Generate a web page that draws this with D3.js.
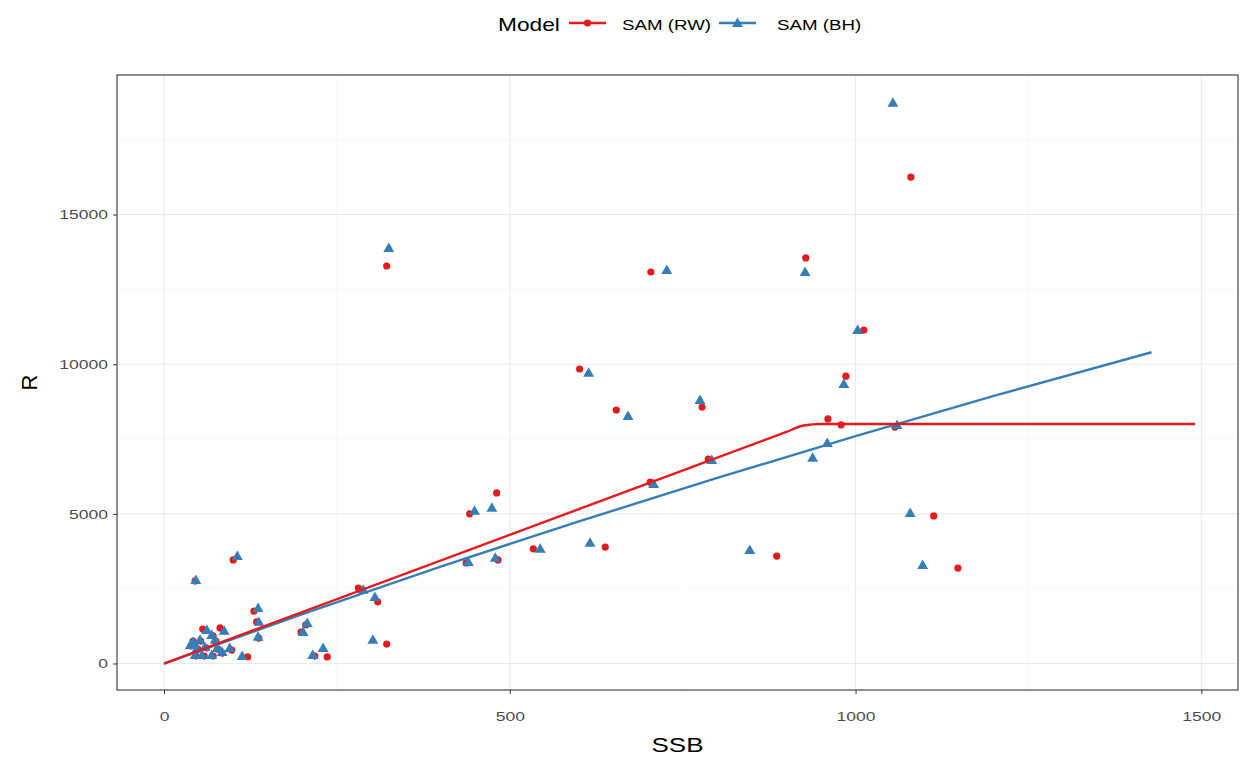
<!DOCTYPE html>
<html>
<head>
  <meta charset="utf-8">
  <title>SSB vs R</title>
  <script src="https://d3js.org/d3.v7.min.js"></script>
  <style>
    body { margin: 0; background: #fff; }
    svg { font-family: "Liberation Sans", Arial, sans-serif; }
    .grid-major line { stroke: #ebebeb; stroke-width: 1.1px; }
    .grid-minor line { stroke: #f3f3f3; stroke-width: 0.6px; }
    .axis text { fill: #4d4d4d; font-size: 13.5px; }
    .axis line { stroke: #333; }
    .axis path { display: none; }
  </style>
</head>
<body>
  <svg width="1250" height="758"></svg>
  <script>
    const rwSSB = [1080, 322, 928, 704, 1012, 601, 986, 654, 778, 960, 979, 1057, 787, 703, 1113,
      481, 442, 437, 483, 534, 638, 886, 1148,
      100, 45, 281, 309, 130, 134, 56, 81, 137, 198, 205, 322, 236, 218, 121, 98,
      42, 53, 49, 58, 71, 75, 78, 71, 84, 61, 39, 46];
    const rwR = [16250, 13280, 13550, 13080, 11140, 9840, 9600, 8470, 8570, 8170, 7970, 7900, 6830, 6060, 4930,
      5700, 5000, 3360, 3460, 3830, 3890, 3590, 3190,
      3460, 2760, 2520, 2060, 1750, 1390, 1150, 1190, 850, 1050, 1290, 650, 220, 250, 220, 450,
      750, 750, 480, 250, 920, 750, 480, 250, 350, 520, 590, 250];

    const bhSSB = [1054, 325, 927, 727, 1003, 614, 983, 671, 775, 959, 938, 1060, 792, 708, 1079,
      474, 449, 440, 479, 544, 616, 847, 1097,
      106, 46, 288, 305, 136, 137, 62, 87, 136, 201, 207, 302, 230, 215, 113, 95,
      42, 52, 48, 55, 69, 74, 77, 69, 84, 59, 38, 45];
    const bhR = [18730, 13880, 13080, 13150, 11140, 9710, 9340, 8270, 8800, 7370, 6870, 7970, 6800, 6000, 5030,
      5200, 5100, 3390, 3530, 3830, 4030, 3790, 3290,
      3590, 2790, 2460, 2220, 1850, 1390, 1120, 1090, 890, 1050, 1350, 790, 520, 280, 250, 520,
      720, 790, 520, 280, 950, 790, 520, 280, 380, 550, 620, 280];

    // fitted curves
    const rwLineSSB = [0, 900, 925, 950, 1491];
    const rwLineR = [0, 7740, 7950, 8000, 8000];
    const bhLineSSB = [0, 200, 400, 600, 800, 1000, 1200, 1428];
    const bhLineR = [0, 1650, 3240, 4750, 6200, 7600, 8940, 10400];

    const models = ["SAM (RW)", "SAM (BH)"];
    const colors = ["#E41A1C", "#377EB8"];
    const xTicks = [0, 500, 1000, 1500];
    const yTicks = [0, 5000, 10000, 15000];

    const stretch = 1.3; // the picture's lettering is wide
    const svg = d3.select("svg");
    const panel = { left: 117, right: 1238, top: 75, bottom: 690 };

    const x = d3.scaleLinear().domain([-68, 1553]).range([panel.left, panel.right]);
    const y = d3.scaleLinear().domain([-885, 19662]).range([panel.bottom, panel.top]);

    function wideText(parent, tx, ty, str, size, anchor) {
      return parent.append("text")
        .attr("transform", `translate(${tx},${ty}) scale(${stretch},1)`)
        .attr("text-anchor", anchor || "start")
        .attr("font-size", size).attr("fill", "#000")
        .text(str);
    }

    // grid
    const minor = svg.append("g").attr("class", "grid-minor");
    minor.selectAll("line.v").data([250, 750, 1250]).join("line").attr("class", "v")
      .attr("x1", d => x(d)).attr("x2", d => x(d))
      .attr("y1", panel.top).attr("y2", panel.bottom);
    minor.selectAll("line.h").data([2500, 7500, 12500, 17500]).join("line").attr("class", "h")
      .attr("y1", d => y(d)).attr("y2", d => y(d))
      .attr("x1", panel.left).attr("x2", panel.right);

    const major = svg.append("g").attr("class", "grid-major");
    major.selectAll("line.v").data(xTicks).join("line").attr("class", "v")
      .attr("x1", d => x(d)).attr("x2", d => x(d))
      .attr("y1", panel.top).attr("y2", panel.bottom);
    major.selectAll("line.h").data(yTicks).join("line").attr("class", "h")
      .attr("y1", d => y(d)).attr("y2", d => y(d))
      .attr("x1", panel.left).attr("x2", panel.right);

    // points
    const rwPts = rwSSB.map((s, i) => ({ s, r: rwR[i] }));
    const bhPts = bhSSB.map((s, i) => ({ s, r: bhR[i] }));

    svg.append("g").selectAll("circle").data(rwPts).join("circle")
      .attr("cx", d => x(d.s)).attr("cy", d => y(d.r))
      .attr("r", 3.6).attr("fill", colors[0]);

    const tri = d3.symbol().type(d3.symbolTriangle).size(52);
    svg.append("g").selectAll("path").data(bhPts).join("path")
      .attr("transform", d => `translate(${x(d.s)},${y(d.r) + 0.8})`)
      .attr("d", tri).attr("fill", colors[1]);

    // fitted lines
    const line = d3.line().x(d => x(d[0])).y(d => y(d[1])).curve(d3.curveMonotoneX);
    svg.append("path")
      .datum(bhLineSSB.map((s, i) => [s, bhLineR[i]]))
      .attr("d", line).attr("fill", "none")
      .attr("stroke", colors[1]).attr("stroke-width", 2.4);
    svg.append("path")
      .datum(rwLineSSB.map((s, i) => [s, rwLineR[i]]))
      .attr("d", line).attr("fill", "none")
      .attr("stroke", colors[0]).attr("stroke-width", 2.4);

    // panel border
    svg.append("rect")
      .attr("x", panel.left).attr("y", panel.top)
      .attr("width", panel.right - panel.left).attr("height", panel.bottom - panel.top)
      .attr("fill", "none").attr("stroke", "#333").attr("stroke-width", 1.1);

    // axes
    const xAxis = svg.append("g").attr("class", "axis")
      .attr("transform", `translate(0,${panel.bottom})`)
      .call(d3.axisBottom(x).tickValues(xTicks).tickSize(4).tickFormat(d3.format("d")));
    xAxis.selectAll("text").attr("y", 21).attr("dy", "0.71em").attr("x", 0)
      .attr("transform", `scale(${stretch},1)`);

    const yAxis = svg.append("g").attr("class", "axis")
      .attr("transform", `translate(${panel.left},0)`)
      .call(d3.axisLeft(y).tickValues(yTicks).tickSize(4).tickPadding(3).tickFormat(d3.format("d")));
    yAxis.selectAll("text").attr("transform", `scale(${stretch},1)`);

    wideText(svg, (panel.left + panel.right) / 2, 752, "SSB", 20, "middle");
    svg.append("text")
      .attr("transform", `translate(37,${(panel.top + panel.bottom) / 2}) rotate(-90)`)
      .attr("text-anchor", "middle").attr("font-size", 22).attr("fill", "#000")
      .text("R");

    // legend
    wideText(svg, 498, 31, "Model", 17.5);
    const keyX = [569, 719];
    const labelX = [53, 58];
    models.forEach((m, i) => {
      const g = svg.append("g").attr("transform", `translate(${keyX[i]},23)`);
      g.append("line").attr("x1", 0).attr("x2", 37).attr("y1", 0).attr("y2", 0)
        .attr("stroke", colors[i]).attr("stroke-width", 2.4);
      if (i === 0) {
        g.append("circle").attr("cx", 18.5).attr("cy", 0).attr("r", 3.6).attr("fill", colors[i]);
      } else {
        g.append("path").attr("transform", "translate(18.5,0.8)").attr("d", tri).attr("fill", colors[i]);
      }
      wideText(g, labelX[i], 7, m, 14.4);
    });
  </script>
</body>
</html>
